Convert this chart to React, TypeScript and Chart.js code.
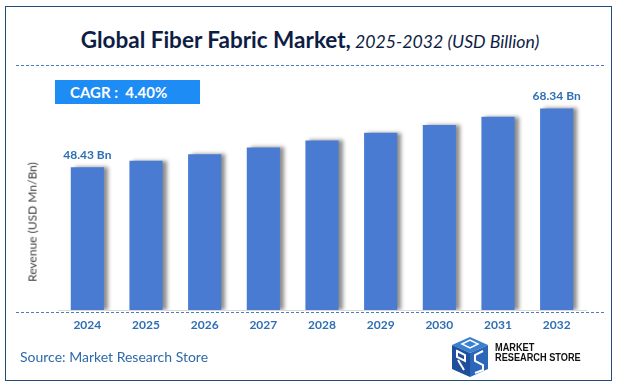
import React, { useEffect, useRef } from "react";
import { Chart, registerables } from "chart.js";

Chart.register(...registerables);

const years = ["2024", "2025", "2026", "2027", "2028", "2029", "2030", "2031", "2032"];
const revenue = [48.43, 50.6, 52.8, 55.1, 57.5, 60.1, 62.7, 65.5, 68.34];
const valueLabels = ["48.43 Bn", "", "", "", "", "", "", "", "68.34 Bn"];
const titleMain = "Global Fiber Fabric Market,";
const titleSub = "2025-2032 (USD Billion)";
const cagrText = "CAGR :  4.40%";
const yAxisTitle = "Revenue (USD Mn/Bn)";
const sourceText = "Source: Market Research Store";
const logoLine1 = "MARKET";
const logoLine2 = "RESEARCH STORE";

const FONT = "Lato, 'Liberation Sans', sans-serif";
const BAR = "#4a7bd3";
const LABEL_BLUE = "#2e6fb3";

const shadowPlugin = {
  id: "barShadow",
  beforeDatasetDraw(chart: any) {
    const ctx = chart.ctx;
    ctx.save();
    ctx.shadowColor = "rgba(0,0,0,0.45)";
    ctx.shadowBlur = 4;
    ctx.shadowOffsetX = 4;
    ctx.shadowOffsetY = 0;
  },
  afterDatasetDraw(chart: any) {
    chart.ctx.restore();
  },
};

const valueLabelPlugin = {
  id: "valueLabels",
  afterDatasetsDraw(chart: any) {
    const ctx = chart.ctx;
    const meta = chart.getDatasetMeta(0);
    ctx.save();
    ctx.font = `bold 12px ${FONT}`;
    ctx.fillStyle = LABEL_BLUE;
    ctx.textAlign = "center";
    ctx.textBaseline = "bottom";
    meta.data.forEach((bar: any, i: number) => {
      const t = valueLabels[i];
      if (!t) return;
      ctx.fillText(t, bar.x, bar.y - 6);
    });
    ctx.restore();
  },
};

function BarChart() {
  const ref = useRef<HTMLCanvasElement | null>(null);
  useEffect(() => {
    if (!ref.current) return;
    const chart = new Chart(ref.current, {
      type: "bar",
      data: {
        labels: years,
        datasets: [
          {
            data: revenue,
            backgroundColor: BAR,
            barPercentage: 0.565,
            categoryPercentage: 1,
          },
        ],
      },
      options: {
        animation: false,
        responsive: false,
        maintainAspectRatio: false,
        layout: { padding: { left: 42, right: 20, top: 4, bottom: 8.6 } },
        plugins: {
          legend: { display: false },
          tooltip: { enabled: false },
          title: { display: false },
        },
        scales: {
          x: {
            grid: { display: false, drawTicks: false },
            border: { display: true, color: "#d9d9d9", width: 1 },
            ticks: {
              padding: 8,
              color: LABEL_BLUE,
              font: { family: FONT, size: 12, weight: "bold" },
            },
          },
          y: {
            display: false,
            min: 0,
            max: 80,
          },
        },
      },
      plugins: [shadowPlugin, valueLabelPlugin],
    });
    return () => chart.destroy();
  }, []);
  return (
    <canvas
      ref={ref}
      width={590}
      height={279}
      style={{ position: "absolute", left: 16, top: 70, width: 590, height: 279 }}
    />
  );
}

function Logo() {
  return (
    <div style={{ position: "absolute", left: 448, top: 337 }}>
      <svg width={44} height={40} viewBox="0 0 44 40">
        <polygon points="4,8 22,0 40,8 22,16" fill="#3a7fd0" />
        <polygon points="4,8 22,16 22,40 4,32" fill="#1f4e9a" />
        <polygon points="22,16 40,8 40,32 22,40" fill="#2b66bb" />
        <path d="M9,14 L17,18 L17,24 L9,20 Z M10,23 L16,33" stroke="#fff" strokeWidth={2} fill="none" />
        <path d="M35,14 L27,18 L27,24 L35,28 L35,33 L27,36" stroke="#fff" strokeWidth={2} fill="none" />
        <path d="M14,7 L22,3 L30,7 L22,11 Z" stroke="#fff" strokeWidth={1.5} fill="none" />
      </svg>
      <div
        style={{
          position: "absolute",
          left: 47,
          top: 6,
          fontFamily: "'Liberation Sans Narrow', 'Liberation Sans', sans-serif",
          fontWeight: "bold",
          fontSize: 10,
          lineHeight: "10px",
          color: "#111",
          whiteSpace: "nowrap",
          transform: "scaleX(0.92)",
          transformOrigin: "left top",
        }}
      >
        <div>{logoLine1}</div>
        <div>{logoLine2}</div>
      </div>
    </div>
  );
}

export default function App() {
  return (
    <div
      style={{
        position: "absolute",
        left: 0,
        top: 0,
        width: 620,
        height: 389,
        background: "#fff",
        overflow: "hidden",
        fontFamily: FONT,
      }}
    >
      <div
        style={{
          position: "absolute",
          left: 5,
          top: 6,
          width: 607,
          height: 375,
          border: "1.5px solid #1f4e79",
          boxSizing: "border-box",
        }}
      />
      <div
        style={{
          position: "absolute",
          left: 0,
          top: 25,
          width: 620,
          textAlign: "center",
          whiteSpace: "nowrap",
          color: "#0e1d44",
          fontSize: 22.5,
          lineHeight: "30px",
        }}
      >
        <span style={{ fontWeight: "bold" }}>{titleMain}</span>
        <span style={{ fontStyle: "italic", fontSize: 17.7 }}> {titleSub}</span>
      </div>
      <div
        style={{
          position: "absolute",
          left: 16,
          top: 65,
          width: 588,
          borderTop: "1.5px dashed #4a7bc0",
        }}
      />
      <div
        style={{
          position: "absolute",
          left: 55,
          top: 80,
          width: 145,
          height: 24,
          background: "#1e8cf5",
          color: "#fff",
          fontWeight: "bold",
          fontSize: 15,
          lineHeight: "24px",
          paddingLeft: 15,
          boxSizing: "border-box",
          whiteSpace: "pre",
        }}
      >
        {cagrText}
      </div>
      <BarChart />
      <div
        style={{
          position: "absolute",
          left: 32,
          top: 222,
          transform: "translate(-50%, -50%) rotate(-90deg)",
          whiteSpace: "nowrap",
          fontSize: 12,
          color: "#404040",
        }}
      >
        {yAxisTitle}
      </div>
      <div
        style={{
          position: "absolute",
          left: 16,
          top: 312,
          width: 588,
          borderTop: "1.5px dashed #4a7bc0",
        }}
      />
      <div
        style={{
          position: "absolute",
          left: 20,
          top: 348,
          fontSize: 14,
          color: "#2e6aa8",
          whiteSpace: "nowrap",
        }}
      >
        {sourceText}
      </div>
      <Logo />
    </div>
  );
}
